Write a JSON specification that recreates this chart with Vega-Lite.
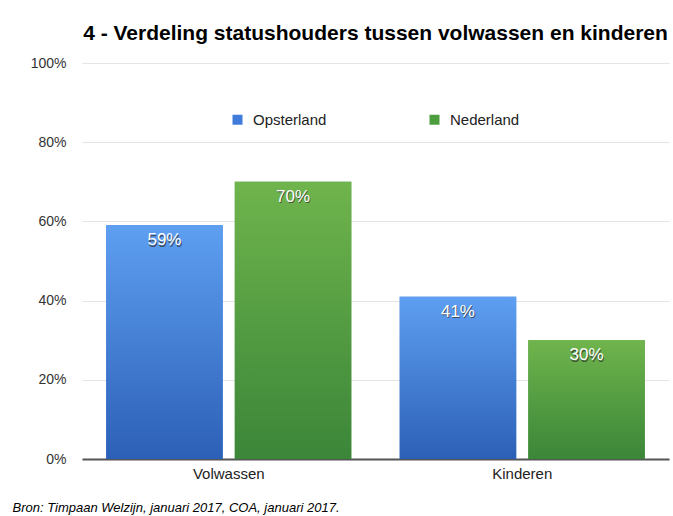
{
  "$schema": "https://vega.github.io/schema/vega-lite/v6.json",
  "autosize": "none",
  "width": 587,
  "height": 396,
  "padding": {"left": 82, "top": 63, "right": 4, "bottom": 57},
  "background": "white",
  "config": {
    "font": "Liberation Sans",
    "view": {"stroke": null}
  },
  "title": {
    "text": "4 - Verdeling statushouders tussen volwassen en kinderen",
    "fontSize": 21,
    "fontWeight": "bold",
    "color": "#000000",
    "anchor": "middle",
    "offset": 12
  },
  "data": {
    "values": [
      {"groep": "Volwassen", "regio": "Opsterland", "aandeel": 0.59},
      {"groep": "Volwassen", "regio": "Nederland", "aandeel": 0.70},
      {"groep": "Kinderen", "regio": "Opsterland", "aandeel": 0.41},
      {"groep": "Kinderen", "regio": "Nederland", "aandeel": 0.30}
    ]
  },
  "encoding": {
    "x": {
      "field": "groep",
      "type": "nominal",
      "sort": ["Volwassen", "Kinderen"],
      "scale": {"paddingInner": 0.165, "paddingOuter": 0.0825},
      "axis": {
        "title": "Bron: Timpaan Welzijn, januari 2017, COA, januari 2017.",
        "titleFontStyle": "italic",
        "titleFontWeight": "normal",
        "titleFontSize": 13,
        "titleColor": "#000000",
        "titleAnchor": "start",
        "titleAlign": "left",
        "titleBaseline": "middle",
        "titleX": -70,
        "titleY": 48,
        "labelAngle": 0,
        "labelFontSize": 15,
        "labelColor": "#222222",
        "labelPadding": 7,
        "ticks": false,
        "domainColor": "#555555",
        "domainWidth": 2
      }
    },
    "xOffset": {
      "field": "regio",
      "type": "nominal",
      "sort": ["Opsterland", "Nederland"],
      "scale": {"paddingInner": 0.094, "paddingOuter": 0}
    },
    "y": {
      "field": "aandeel",
      "type": "quantitative",
      "scale": {"domain": [0, 1]},
      "axis": {
        "title": null,
        "format": ".0%",
        "values": [0, 0.2, 0.4, 0.6, 0.8, 1],
        "labelFontSize": 14,
        "labelColor": "#333333",
        "labelPadding": 16,
        "ticks": false,
        "domain": false,
        "gridColor": "#e4e4e4",
        "gridWidth": 1
      }
    }
  },
  "layer": [
    {
      "mark": {"type": "bar"},
      "encoding": {
        "color": {
          "field": "regio",
          "type": "nominal",
          "sort": ["Opsterland", "Nederland"],
          "scale": {"domain": ["Opsterland", "Nederland"], "range": ["#3f7cdc", "#4c9e3e"]},
          "legend": {
            "title": null,
            "orient": "none",
            "legendX": 148,
            "legendY": 49,
            "direction": "horizontal",
            "symbolType": "square",
            "symbolSize": 100,
            "symbolStrokeWidth": 0,
            "labelFontSize": 15,
            "labelColor": "#222222",
            "labelOffset": 8,
            "columnPadding": 100
          }
        }
      }
    },
    {
      "transform": [{"filter": "datum.regio === 'Opsterland'"}],
      "mark": {
        "type": "bar",
        "fill": {
          "gradient": "linear",
          "x1": 0, "y1": 0, "x2": 0, "y2": 1,
          "stops": [
            {"offset": 0, "color": "#5e9ff2"},
            {"offset": 1, "color": "#2c60b6"}
          ]
        }
      }
    },
    {
      "transform": [{"filter": "datum.regio === 'Nederland'"}],
      "mark": {
        "type": "bar",
        "fill": {
          "gradient": "linear",
          "x1": 0, "y1": 0, "x2": 0, "y2": 1,
          "stops": [
            {"offset": 0, "color": "#6fb44c"},
            {"offset": 1, "color": "#3b8639"}
          ]
        }
      }
    },
    {
      "mark": {"type": "text", "dy": 16.5, "dx": 0.8, "fontSize": 17, "color": "#333333", "opacity": 0.75, "baseline": "middle"},
      "encoding": {"text": {"field": "aandeel", "type": "quantitative", "format": ".0%"}}
    },
    {
      "mark": {"type": "text", "dy": 15, "fontSize": 17, "color": "#ffffff", "baseline": "middle"},
      "encoding": {"text": {"field": "aandeel", "type": "quantitative", "format": ".0%"}}
    }
  ]
}
